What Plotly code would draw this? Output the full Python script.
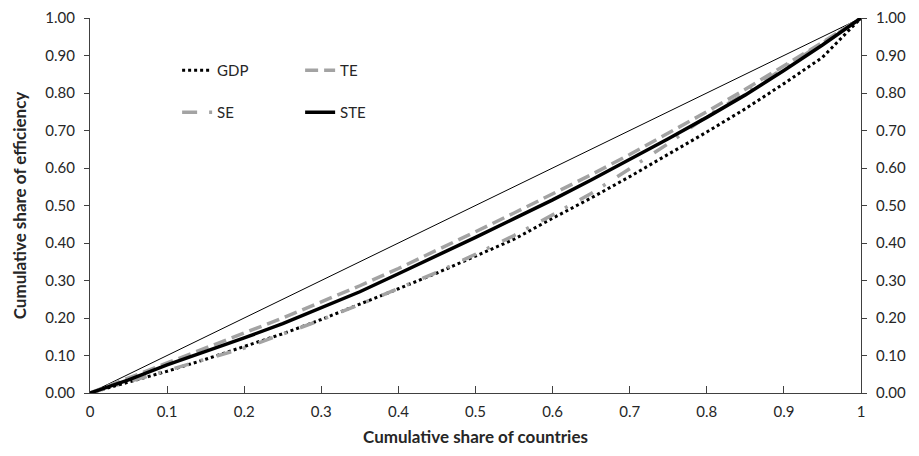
import plotly.graph_objects as go

x_share = [0, 0.05, 0.1, 0.15, 0.2, 0.25, 0.3, 0.35, 0.4, 0.45, 0.5,
           0.55, 0.6, 0.65, 0.7, 0.75, 0.8, 0.85, 0.9, 0.95, 1.0]
gdp = [0, 0.028, 0.058, 0.09, 0.123, 0.158, 0.196, 0.236, 0.278, 0.32, 0.365,
       0.41, 0.466, 0.52, 0.577, 0.636, 0.696, 0.758, 0.825, 0.895, 1.0]
te = [0, 0.04, 0.082, 0.12, 0.16, 0.2, 0.243, 0.286, 0.332, 0.38, 0.43,
      0.48, 0.53, 0.582, 0.636, 0.692, 0.75, 0.81, 0.872, 0.935, 1.0]
se = [0, 0.03, 0.058, 0.088, 0.12, 0.157, 0.195, 0.236, 0.278, 0.322, 0.37,
      0.42, 0.475, 0.532, 0.598, 0.665, 0.738, 0.8, 0.866, 0.932, 1.0]
ste = [0, 0.035, 0.075, 0.11, 0.147, 0.185, 0.228, 0.27, 0.318, 0.366, 0.415,
       0.465, 0.515, 0.568, 0.622, 0.678, 0.735, 0.795, 0.86, 0.928, 1.0]
equality_x = [0, 1]
equality_y = [0, 1]

x_ticks = [0, 0.1, 0.2, 0.3, 0.4, 0.5, 0.6, 0.7, 0.8, 0.9, 1]
x_ticklabels = ["0", "0.1", "0.2", "0.3", "0.4", "0.5", "0.6", "0.7", "0.8", "0.9", "1"]
y_ticks = [0, 0.1, 0.2, 0.3, 0.4, 0.5, 0.6, 0.7, 0.8, 0.9, 1.0]
y_ticklabels = ["0.00", "0.10", "0.20", "0.30", "0.40", "0.50", "0.60", "0.70", "0.80", "0.90", "1.00"]

FONT = "Lato"
GRAY = "#a3a3a3"
TXT = "#262626"

fig = go.Figure()
fig.add_trace(go.Scatter(x=equality_x, y=equality_y, mode="lines",
                         line=dict(color="#000000", width=1), showlegend=False,
                         hoverinfo="skip"))
fig.add_trace(go.Scatter(x=x_share, y=gdp, mode="lines", name="GDP",
                         line=dict(color="#000000", width=3, dash="dot"),
                         legend="legend"))
fig.add_trace(go.Scatter(x=x_share, y=te, mode="lines", name="TE",
                         line=dict(color=GRAY, width=3.5, dash="13px,6px"),
                         legend="legend"))
fig.add_trace(go.Scatter(x=x_share, y=se, mode="lines", name="SE",
                         line=dict(color=GRAY, width=3.5, dash="15px,12px,3px,14px"),
                         legend="legend2"))
fig.add_trace(go.Scatter(x=x_share, y=ste, mode="lines", name="STE",
                         line=dict(color="#000000", width=3.5),
                         legend="legend2"))
# invisible trace for right axis
fig.add_trace(go.Scatter(x=[0, 1], y=[0, 1], mode="lines", yaxis="y2",
                         line=dict(color="rgba(0,0,0,0)", width=0),
                         showlegend=False, hoverinfo="skip"))

axis_line = "#404040"
fig.update_layout(
    width=911, height=448,
    margin=dict(l=82, r=58, t=10, b=63, autoexpand=False),
    paper_bgcolor="white", plot_bgcolor="white",
    font=dict(family=FONT, size=15, color=TXT),
    xaxis=dict(range=[0, 1], tickvals=x_ticks, ticktext=x_ticklabels,
               showgrid=False, zeroline=False, showline=True, automargin=False,
               linecolor=axis_line, linewidth=1,
               ticks="inside", ticklen=7, tickcolor=axis_line,
               ticklabelstandoff=5, ticklabeloverflow="allow",
               title=dict(text="<b>Cumulative share of countries</b>",
                          font=dict(size=17, family=FONT, color=TXT), standoff=12)),
    yaxis=dict(range=[0, 1], tickvals=y_ticks, ticktext=y_ticklabels,
               showgrid=False, zeroline=False, showline=True, automargin=False,
               linecolor=axis_line, linewidth=1,
               ticks="outside", ticklen=5, tickcolor=axis_line,
               ticklabelstandoff=6, ticklabeloverflow="allow",
               title=dict(text="<b>Cumulative share of efficiency</b>",
                          font=dict(size=17, family=FONT, color=TXT), standoff=14)),
    yaxis2=dict(range=[0, 1], tickvals=y_ticks, ticktext=y_ticklabels,
                overlaying="y", side="right", automargin=False,
                showgrid=False, zeroline=False, showline=True,
                linecolor=axis_line, linewidth=1,
                ticks="outside", ticklen=5, tickcolor=axis_line,
                ticklabelstandoff=6, ticklabeloverflow="allow"),
    legend=dict(orientation="h", x=0.113, y=0.86, xanchor="left", yanchor="middle",
                entrywidth=78, entrywidthmode="pixels",
                bgcolor="rgba(0,0,0,0)", font=dict(size=15, family=FONT, color=TXT)),
    legend2=dict(orientation="h", x=0.113, y=0.748, xanchor="left", yanchor="middle",
                 entrywidth=78, entrywidthmode="pixels",
                 bgcolor="rgba(0,0,0,0)", font=dict(size=15, family=FONT, color=TXT)),
)

fig.write_html("out.html")
